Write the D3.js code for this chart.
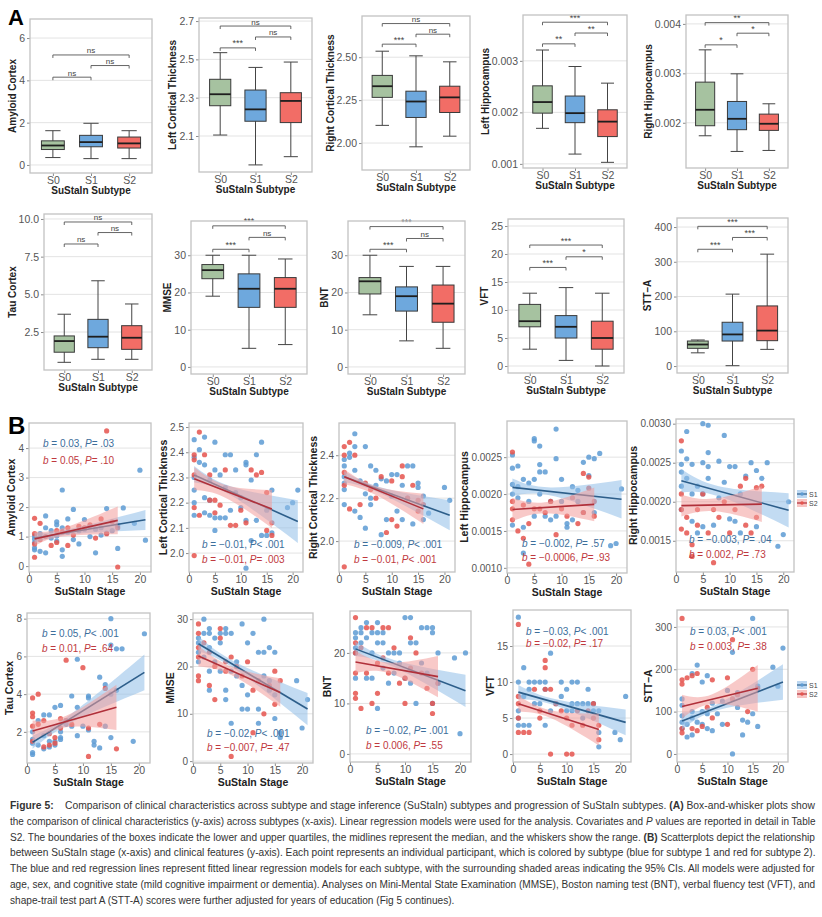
<!DOCTYPE html>
<html>
<head>
<meta charset="utf-8">
<script src="https://cdn.jsdelivr.net/npm/d3@7"></script>
<style>
  body { margin: 0; background: #fff; }
  text { font-family: "Liberation Sans", Arial, sans-serif; }
</style>
</head>
<body>
<div id="chart"></div>
<script>
// ---------- Panel A data: box stats [min, q1, median, q3, max] for S0, S1, S2
const subtypes = ["S0", "S1", "S2"]
const amyloidBox = [[0.35, 0.73, 0.92, 1.14, 1.62], [0.30, 0.86, 1.08, 1.40, 1.97], [0.30, 0.80, 1.02, 1.32, 1.62]]
const leftCtBox = [[2.105, 2.258, 2.318, 2.396, 2.535], [1.949, 2.177, 2.239, 2.340, 2.458], [1.992, 2.170, 2.283, 2.326, 2.486]]
const rightCtBox = [[2.103, 2.266, 2.331, 2.394, 2.535], [1.978, 2.149, 2.242, 2.302, 2.508], [2.040, 2.178, 2.266, 2.331, 2.473]]
const leftHipBox = [[0.00169, 0.001985, 0.0022, 0.002515, 0.00321], [0.00119, 0.0018, 0.001985, 0.002317, 0.00289], [0.00103, 0.00153, 0.00182, 0.00205, 0.002567]]
const rightHipBox = [[0.001737, 0.00194, 0.002263, 0.002822, 0.003475], [0.00142, 0.00186, 0.00208, 0.002431, 0.00299], [0.00144, 0.001846, 0.00198, 0.002175, 0.002384]]
const tauBox = [[0.49, 1.16, 1.9, 2.24, 3.68], [0.69, 1.46, 2.19, 3.34, 5.9], [0.69, 1.35, 2.12, 2.92, 4.36]]
const mmseBox = [[19, 23.7, 26, 27.5, 30], [5, 16, 21, 25, 30], [6, 16, 21, 24, 29]]
const bntBox = [[14, 19.6, 23, 24, 30], [7, 15, 19, 21.5, 27], [5, 12, 17, 22, 27]]
const vftBox = [[3, 7, 8, 11, 13], [1, 5, 7, 9, 14], [0, 3, 5, 8, 13]]
const sttBox = [[38, 51, 62, 72, 75], [1, 72, 91, 126, 207], [48, 73, 102, 173, 322]]

// significance labels: S0-S1, S1-S2, S0-S2
const amyloidSig = ["ns", "ns", "ns"]
const leftCtSig = ["***", "ns", "ns"]
const rightCtSig = ["***", "ns", "ns"]
const leftHipSig = ["**", "**", "***"]
const rightHipSig = ["*", "*", "**"]
const tauSig = ["ns", "ns", "ns"]
const mmseSig = ["***", "ns", "***"]
const bntSig = ["***", "ns", "***"]
const vftSig = ["***", "*", "***"]
const sttSig = ["***", "***", "***"]

// ---------- Panel B data: [stage, value] points per subtype
const amyS1 = [[1,0.92],[1,0.62],[1,0.55],[1,1.02],[1,0.8],[2,0.5],[2,1.1],[3,1.7],[3,0.45],[3,1.3],[4,0.95],[4,1.2],[5,1.5],[5,1.4],[5,1.02],[5,0.85],[6,2.58],[6,0.55],[6,0.33],[6,1.3],[7,1.6],[7,1.15],[8,1.92],[8,0.9],[9,1.2],[9,0.75],[10,1.58],[10,1.25],[11,1.0],[11,1.35],[12,0.45],[12,1.25],[13,1.3],[13,1.05],[14,1.95],[14,1.12],[15,1.2],[16,0.6],[16,1.38],[17,1.97],[19,1.45],[20,3.25],[21,0.88]]
const amyS2 = [[1,1.62],[1,0.3],[1,1.1],[1,0.75],[2,1.45],[2,0.9],[3,1.0],[4,0.7],[5,1.2],[5,0.8],[6,1.15],[7,0.7],[7,1.3],[8,1.05],[9,1.35],[10,1.3],[11,1.4],[12,0.95],[13,1.6],[14,4.58],[14,1.1],[15,1.5],[16,-0.03],[16,1.3]]
const lctS1 = [[1,2.45],[1,2.38],[1,2.30],[1,2.25],[1,2.20],[1,2.15],[2,2.36],[2,2.41],[3,2.46],[3,2.35],[3,2.22],[3,2.16],[4,2.21],[4,2.29],[4,2.15],[5,2.44],[5,2.33],[5,2.14],[5,2.09],[6,2.31],[6,2.14],[7,2.39],[7,2.26],[7,2.14],[8,2.39],[8,2.17],[9,2.24],[9,2.33],[10,2.18],[10,2.22],[11,2.36],[11,2.13],[11,2.35],[11,1.94],[12,2.29],[12,2.05],[13,2.39],[13,2.13],[14,2.44],[14,2.07],[15,2.07],[15,2.17],[16,2.25],[16,2.08],[19,2.18],[20,2.20],[21,2.25]]
const lctS2 = [[1,2.37],[1,2.39],[1,2.31],[1,2.18],[1,1.99],[2,2.48],[2,2.15],[3,2.39],[4,2.31],[4,2.21],[5,2.16],[5,2.21],[6,2.19],[7,2.33],[8,2.11],[9,2.11],[10,2.17],[11,2.12],[12,2.33],[13,2.31],[14,2.32],[15,2.09],[15,2.24],[16,2.07],[16,2.12]]
const rctS1 = [[1,2.38],[1,2.35],[1,2.30],[1,2.27],[1,2.24],[1,2.17],[2,2.39],[2,2.41],[3,2.50],[3,2.44],[3,2.33],[3,2.14],[4,2.28],[4,2.11],[5,2.44],[5,2.22],[5,2.06],[6,2.35],[6,2.17],[6,2.20],[7,2.33],[7,2.26],[8,2.29],[8,2.03],[9,2.28],[9,2.10],[10,2.31],[10,2.21],[11,2.31],[11,2.14],[12,2.26],[12,2.10],[13,2.35],[13,2.20],[14,2.35],[14,2.08],[15,2.25],[15,2.27],[16,2.10],[16,2.21],[17,2.13],[20,2.25],[21,2.19]]
const rctS2 = [[1,2.44],[1,2.40],[1,2.32],[1,2.26],[1,1.88],[2,2.46],[2,2.15],[3,2.40],[4,2.17],[5,2.27],[6,2.24],[7,2.20],[8,2.30],[9,2.04],[10,2.28],[10,2.10],[11,2.07],[12,2.30],[12,2.35],[13,2.20],[14,2.26],[15,2.14],[15,2.19],[16,2.17]]
const lhS1 = [[1,0.00253],[1,0.00235],[1,0.00213],[1,0.0020],[1,0.00158],[2,0.00238],[2,0.0021],[2,0.00195],[3,0.0022],[3,0.00155],[3,0.0012],[4,0.00215],[4,0.0019],[5,0.00275],[5,0.00272],[5,0.0022],[5,0.0017],[6,0.00265],[6,0.0024],[6,0.0023],[6,0.0020],[7,0.0023],[7,0.0017],[8,0.0019],[8,0.00165],[9,0.00288],[9,0.00248],[9,0.0017],[10,0.0022],[10,0.0019],[11,0.0016],[11,0.00155],[12,0.0021],[12,0.00165],[13,0.00205],[13,0.0019],[14,0.00243],[14,0.00175],[15,0.00225],[15,0.0025],[16,0.00248],[16,0.00175],[17,0.00255],[19,0.0013],[20,0.00133],[21,0.00207]]
const lhS2 = [[1,0.00257],[1,0.0019],[1,0.0018],[1,0.00165],[2,0.0015],[3,0.0014],[3,0.00185],[4,0.00105],[4,0.0016],[5,0.0018],[6,0.0018],[7,0.00175],[8,0.0019],[9,0.00145],[10,0.0018],[11,0.0017],[12,0.00195],[13,0.0016],[14,0.00228],[14,0.00175],[15,0.00223],[15,0.00208],[16,0.0017],[16,0.0019]]
const rhS1 = [[1,0.00265],[1,0.00248],[1,0.00238],[1,0.0022],[1,0.0019],[2,0.0029],[2,0.00255],[2,0.0023],[3,0.00248],[3,0.0021],[3,0.00175],[4,0.0022],[4,0.0016],[5,0.003],[5,0.0025],[5,0.0021],[5,0.00168],[6,0.00298],[6,0.00263],[6,0.00245],[6,0.0023],[7,0.0017],[8,0.00252],[8,0.00205],[9,0.00285],[9,0.00225],[10,0.00245],[10,0.00178],[11,0.00245],[11,0.00175],[12,0.0021],[12,0.0016],[13,0.00233],[14,0.0025],[15,0.0024],[15,0.00168],[16,0.0023],[17,0.0025],[19,0.00143],[20,0.00158],[21,0.002]]
const rhS2 = [[1,0.00278],[1,0.0021],[1,0.0019],[1,0.00165],[2,0.0018],[2,0.0016],[3,0.00145],[3,0.0013],[4,0.0017],[4,0.0019],[5,0.0021],[6,0.0016],[7,0.00122],[7,0.0019],[8,0.0018],[9,0.002],[10,0.0016],[11,0.0019],[12,0.0022],[13,0.0023],[13,0.0017],[14,0.0016],[15,0.00218],[15,0.0018],[16,0.0022]]
const tauS1 = [[1,2.0],[1,1.6],[1,1.4],[1,0.9],[1,0.8],[2,2.6],[2,1.3],[3,2.9],[3,1.8],[3,1.1],[4,2.9],[4,1.5],[4,1.2],[5,3.3],[5,1.5],[5,1.3],[6,3.4],[6,2.0],[6,1.7],[6,1.6],[7,2.6],[7,2.4],[8,3.9],[8,2.3],[9,5.85],[9,3.3],[9,1.8],[10,2.3],[11,3.9],[11,3.8],[11,2.1],[12,1.5],[12,1.3],[13,4.9],[13,1.15],[14,4.5],[14,2.3],[15,8.0],[15,6.6],[15,4.0],[15,1.7],[16,6.4],[16,4.2],[17,6.4],[19,1.5],[21,7.2]]
const tauS2 = [[1,3.8],[1,3.0],[1,2.8],[1,2.3],[1,1.5],[2,4.0],[2,2.4],[3,2.6],[3,1.2],[4,1.9],[4,1.3],[5,1.4],[5,1.7],[6,2.7],[6,2.2],[7,5.8],[7,2.6],[8,2.4],[10,5.4],[11,0.7],[11,2.2],[13,2.4],[14,4.3],[16,1.1]]
const mmseS1 = [[1,26],[1,25],[1,23],[1,21],[2,30],[2,27],[2,22],[3,28],[3,27],[3,24],[3,19],[3,15],[4,26],[4,21],[5,27],[5,25],[5,19],[6,28],[6,27],[6,15],[6,13],[7,27],[7,19],[7,8],[8,21],[8,18],[9,29],[9,16],[9,11],[10,25],[10,14],[10,11],[11,27],[12,23],[12,11],[12,8],[13,30],[13,23],[13,18],[14,24],[14,17],[14,15],[15,23],[15,9],[15,14],[16,6],[16,5],[19,17],[20,7],[21,13]]
const mmseS2 = [[1,29],[1,27],[1,24],[1,22],[1,18],[1,17],[2,25],[3,23],[3,16],[4,20],[4,13],[5,28],[5,26],[6,21],[6,19],[7,1],[7,22],[8,20],[9,18],[10,21],[11,15],[11,6],[12,17],[13,10],[14,16],[15,19],[15,12],[16,17]]
const bntS1 = [[1,24],[1,23],[1,21],[1,20],[1,15],[2,25],[2,24],[2,22],[3,26],[3,23],[3,15],[4,24],[4,20],[4,15],[5,26],[5,24],[5,22],[5,9],[6,24],[6,22],[6,17],[7,20],[7,14],[8,20],[8,16],[9,20],[9,18],[10,27],[10,15],[11,27],[11,22],[11,14],[12,22],[12,10],[13,25],[13,18],[14,25],[14,16],[15,25],[15,24],[15,10],[16,20],[16,14],[19,19],[20,4],[21,20]]
const bntS2 = [[1,27],[1,22],[1,20],[1,16],[1,12],[1,11],[2,21],[2,9],[3,25],[3,16],[4,25],[4,10],[5,18],[5,12],[6,25],[6,19],[7,25],[7,16],[8,21],[9,14],[10,15],[10,10],[11,23],[11,17],[12,20],[13,16],[14,13],[15,10],[15,8],[16,14]]
const vftS1 = [[1,19],[1,10],[1,6],[1,5],[1,4],[2,12],[2,8],[2,4],[3,10],[3,9],[3,4],[4,10],[4,7],[5,10],[5,7],[6,10],[6,9],[6,4],[7,14],[7,6],[8,7],[9,10],[9,8],[10,9],[10,6],[11,10],[11,7],[11,6],[12,10],[12,7],[13,7],[13,5],[14,9],[14,7],[15,7],[15,6],[16,3],[16,1],[16,6],[19,3],[20,2],[21,8]]
const vftS2 = [[1,18],[1,8],[1,7],[1,5],[1,3],[2,3],[3,3],[4,9],[5,6],[5,5],[6,13],[6,12],[6,9],[7,9],[7,0],[8,7],[9,6],[10,0],[10,5],[11,0],[11,4],[12,6],[13,4],[14,6],[15,7],[15,5],[16,4],[16,2]]
const sttS1 = [[1,130],[1,115],[1,90],[1,75],[1,60],[2,70],[2,40],[3,190],[3,100],[3,85],[3,45],[4,210],[4,75],[5,170],[5,100],[5,70],[6,185],[6,95],[6,60],[7,55],[7,120],[8,95],[9,70],[9,125],[10,150],[11,240],[11,0],[12,110],[12,145],[13,80],[13,45],[14,75],[15,320],[15,95],[16,65],[16,160],[19,205],[20,160],[21,250]]
const sttS2 = [[1,320],[1,175],[1,165],[1,60],[1,50],[2,180],[3,185],[3,60],[4,190],[4,55],[5,65],[6,110],[7,175],[7,85],[10,70],[10,180],[11,270],[11,130],[12,140],[14,100],[15,200],[16,155]]

// fitted lines [stage, value] and 95% CI bands [stage, lower, upper]
const amyFit = [[[1,0.95],[21,1.57]], [[1,0.92],[16,1.55]]]
const amyBand = [[[1,0.76,1.12],[7,1.06,1.24],[21,1.22,1.9]], [[1,0.68,1.17],[6,1.0,1.28],[16,1.08,2.02]]]
const lctFit = [[[1,2.31],[21,2.125]], [[1,2.295],[16,2.175]]]
const lctBand = [[[1,2.28,2.345],[8,2.23,2.265],[21,2.04,2.21]], [[1,2.25,2.34],[7,2.22,2.27],[16,2.10,2.25]]]
const rctFit = [[[1,2.30],[21,2.12]], [[1,2.30],[16,2.15]]]
const rctBand = [[[1,2.275,2.325],[8,2.22,2.25],[21,2.05,2.19]], [[1,2.265,2.335],[7,2.215,2.255],[16,2.08,2.22]]]
const lhFit = [[[1,0.00209],[21,0.00193]], [[1,0.00179],[16,0.00186]]]
const lhBand = [[[1,0.00197,0.00221],[8,0.00198,0.00209],[21,0.00167,0.00219]], [[1,0.00163,0.00195],[7,0.00174,0.00189],[16,0.00163,0.00209]]]
const rhFit = [[[1,0.00227],[21,0.00189]], [[1,0.00195],[16,0.00197]]]
const rhBand = [[[1,0.00212,0.00242],[8,0.00207,0.0022],[21,0.00167,0.00211]], [[1,0.00181,0.00209],[7,0.00188,0.00204],[16,0.00174,0.0022]]]
const tauFit = [[[1,1.45],[21,5.15]], [[1,2.05],[16,3.3]]]
const tauBand = [[[1,1.1,1.8],[8,2.5,2.98],[21,4.2,6.1]], [[1,1.5,2.6],[7,2.25,2.85],[16,2.1,4.5]]]
const mmseFit = [[[1,24.8],[21,11]], [[1,22.2],[16,14.5]]]
const mmseBand = [[[1,23.2,26.4],[8,19.2,20.8],[21,7.6,14.4]], [[1,20.0,24.4],[7,18.2,20.0],[16,11.5,17.5]]]
const bntFit = [[[1,20.8],[21,12.5]], [[1,18.2],[16,15.3]]]
const bntBand = [[[1,19.4,22.2],[8,17.2,18.6],[21,9.3,15.7]], [[1,16.0,20.4],[7,16.0,18.1],[16,11.2,19.4]]]
const vftFit = [[[1,8.6],[21,4.4]], [[1,7.0],[16,3.4]]]
const vftBand = [[[1,7.6,9.6],[8,6.7,7.6],[21,2.6,6.2]], [[1,5.9,8.1],[7,5.0,6.1],[16,1.2,5.6]]]
const sttFit = [[[1,78],[21,170]], [[1,112],[16,155]]]
const sttBand = [[[1,58,98],[8,103,118],[21,128,212]], [[1,84,140],[7,118,141],[16,100,210]]]

// regression notes: [b, relation, P] for S1 and S2
const amyNotes = [["0.03", "=", ".03"], ["0.05", "=", ".10"]]
const lctNotes = [["\u22120.01", "<", ".001"], ["\u22120.01", "=", ".003"]]
const rctNotes = [["\u22120.009", "<", ".001"], ["\u22120.01", "<", ".001"]]
const lhNotes = [["\u22120.002", "=", ".57"], ["\u22120.0006", "=", ".93"]]
const rhNotes = [["\u22120.003", "=", ".04"], ["0.002", "=", ".73"]]
const tauNotes = [["0.05", "<", ".001"], ["0.01", "=", ".64"]]
const mmseNotes = [["\u22120.02", "<", ".001"], ["\u22120.007", "=", ".47"]]
const bntNotes = [["\u22120.02", "=", ".001"], ["0.006", "=", ".55"]]
const vftNotes = [["\u22120.03", "<", ".001"], ["\u22120.02", "=", ".17"]]
const sttNotes = [["0.03", "<", ".001"], ["0.003", "=", ".38"]]

const captionLines = [
  [["Figure 5:", "b"], ["    Comparison of clinical characteristics across subtype and stage inference (SuStaIn) subtypes and progression of SuStaIn subtypes. "], ["(A)", "b"], [" Box-and-whisker plots show"]],
  [["the comparison of clinical characteristics (y-axis) across subtypes (x-axis). Linear regression models were used for the analysis. Covariates and "], ["P", "i"], [" values are reported in detail in Table"]],
  [["S2. The boundaries of the boxes indicate the lower and upper quartiles, the midlines represent the median, and the whiskers show the range. "], ["(B)", "b"], [" Scatterplots depict the relationship"]],
  [["between SuStaIn stage (x-axis) and clinical features (y-axis). Each point represents an individual participant, which is colored by subtype (blue for subtype 1 and red for subtype 2)."]],
  [["The blue and red regression lines represent fitted linear regression models for each subtype, with the surrounding shaded areas indicating the 95% CIs. All models were adjusted for"]],
  [["age, sex, and cognitive state (mild cognitive impairment or dementia). Analyses on Mini-Mental State Examination (MMSE), Boston naming test (BNT), verbal fluency test (VFT), and"]],
  [["shape-trail test part A (STT-A) scores were further adjusted for years of education (Fig 5 continues)."]]
]

// ---------- styles
const FONT = '"Liberation Sans", Arial, sans-serif'
const BOX_FILL = { S0: "#a6c2a0", S1: "#6ea8dd", S2: "#f26d66" }
const PT = ["#5d9bd3", "#e5544d"]
const LINE = ["#2d5e8a", "#b0303a"]
const BAND = ["#8fbde8", "#f39c9a"]
const NOTE = ["#3c6e9b", "#c0393e"]

const svg = d3.select("#chart").append("svg")
  .attr("width", 822)
  .attr("height", 917)

function styleAxis(ax, size) {
  ax.attr("font-family", FONT).attr("font-size", size)
  ax.select(".domain").remove()
  ax.selectAll(".tick line").attr("stroke", "#8c8c8c")
  ax.selectAll(".tick text").attr("fill", "#555")
}

function yTitle(g, text, ax, x0, yMid, size) {
  let w = 0
  ax.selectAll(".tick text").each(function () { w = Math.max(w, this.getComputedTextLength()) })
  g.append("text")
    .attr("transform", `translate(${x0 - 5 - w - 3},${yMid}) rotate(-90)`)
    .attr("text-anchor", "middle")
    .attr("font-weight", "bold")
    .attr("font-size", size)
    .attr("fill", "#222")
    .text(text)
}

function gridAndFrame(g, y, ticks, f) {
  g.selectAll(".grid").data(ticks).join("line")
    .attr("x1", f[0]).attr("x2", f[1])
    .attr("y1", d => y(d)).attr("y2", d => y(d))
    .attr("stroke", "#e3e3e3").attr("stroke-width", 1)
}

function frameRect(g, f) {
  g.append("rect")
    .attr("x", f[0]).attr("y", f[2])
    .attr("width", f[1] - f[0]).attr("height", f[3] - f[2])
    .attr("fill", "none").attr("stroke", "#c2c2c2").attr("stroke-width", 1.3)
}

// ---------- Panel A: box plots
const boxPanels = [
  { title: "Amyloid Cortex", stats: amyloidBox, sig: amyloidSig, frame: [30, 152, 19, 173], domain: [-0.38, 6.9], ticks: [0, 2, 4, 6], fmt: "d", sigY: [4.15, 4.7, 5.2] },
  { title: "Left Cortical Thickness", stats: leftCtBox, sig: leftCtSig, frame: [199, 312, 18, 172], domain: [1.912, 2.716], ticks: [2.1, 2.3, 2.5, 2.7], fmt: ".1f", sigY: [2.56, 2.617, 2.674] },
  { title: "Right Cortical Thickness", stats: rightCtBox, sig: rightCtSig, frame: [362, 470, 16, 170], domain: [1.843, 2.74], ticks: [2.0, 2.25, 2.5], fmt: ".2f", sigY: [2.576, 2.634, 2.696] },
  { title: "Left Hippocampus", stats: leftHipBox, sig: leftHipSig, frame: [523, 627, 15, 168], domain: [0.00092, 0.00389], ticks: [0.001, 0.002, 0.003], fmt: ".3f", sigY: [0.00333, 0.00354, 0.00375] },
  { title: "Right Hippocampus", stats: rightHipBox, sig: rightHipSig, frame: [686, 788, 15, 168], domain: [0.001085, 0.00418], ticks: [0.002, 0.003, 0.004], fmt: ".3f", sigY: [0.003576, 0.003812, 0.004026] },
  { title: "Tau Cortex", stats: tauBox, sig: tauSig, frame: [44, 152, 214, 370], domain: [-0.02, 10.33], ticks: [2.5, 5, 7.5, 10], fmt: ".1f", sigY: [8.34, 9.1, 9.8] },
  { title: "MMSE", stats: mmseBox, sig: mmseSig, frame: [191, 307, 221, 374], domain: [-1.9, 39.2], ticks: [0, 10, 20, 30], fmt: "d", sigY: [31.6, 34.8, 37.9] },
  { title: "BNT", stats: bntBox, sig: bntSig, frame: [348, 465, 221, 374], domain: [-1.9, 39.2], ticks: [0, 10, 20, 30], fmt: "d", sigY: [31.6, 34.5, 37.7] },
  { title: "VFT", stats: vftBox, sig: vftSig, frame: [508, 624, 219, 373], domain: [-1.25, 26.25], ticks: [0, 5, 10, 15, 20, 25], fmt: "d", sigY: [17.6, 19.5, 21.6] },
  { title: "STT\u2013A", stats: sttBox, sig: sttSig, frame: [677, 788, 218, 373], domain: [-20, 426], ticks: [0, 100, 200, 300, 400], fmt: "d", sigY: [336, 370, 402] }
]
const sigPairs = [["S0", "S1"], ["S1", "S2"], ["S0", "S2"]]

function boxPanel(p) {
  const [x0, x1, y0, y1] = p.frame
  const g = svg.append("g")
  const x = d3.scalePoint().domain(subtypes).range([x0, x1]).padding(0.6)
  const y = d3.scaleLinear().domain(p.domain).range([y1, y0])

  gridAndFrame(g, y, p.ticks, p.frame)

  const ay = g.append("g").attr("transform", `translate(${x0},0)`)
    .call(d3.axisLeft(y).tickValues(p.ticks).tickFormat(d3.format(p.fmt)).tickSize(3).tickPadding(2))
  styleAxis(ay, 10.5)
  const ax = g.append("g").attr("transform", `translate(0,${y1})`)
    .call(d3.axisBottom(x).tickSize(3).tickPadding(1))
  styleAxis(ax, 10.5)

  const step = x.step(), bw = step * 0.6, cw = step * 0.4
  subtypes.forEach((s, i) => {
    const [mn, q1, md, q3, mx] = p.stats[i]
    const cx = x(s)
    g.append("line").attr("x1", cx).attr("x2", cx).attr("y1", y(mn)).attr("y2", y(mx))
      .attr("stroke", "#444").attr("stroke-width", 1)
    ;[mn, mx].forEach(v => g.append("line")
      .attr("x1", cx - cw / 2).attr("x2", cx + cw / 2).attr("y1", y(v)).attr("y2", y(v))
      .attr("stroke", "#444").attr("stroke-width", 1))
    g.append("rect").attr("x", cx - bw / 2).attr("width", bw)
      .attr("y", y(q3)).attr("height", y(q1) - y(q3))
      .attr("fill", BOX_FILL[s]).attr("stroke", "#3a3a3a").attr("stroke-width", 1)
    g.append("line").attr("x1", cx - bw / 2).attr("x2", cx + bw / 2).attr("y1", y(md)).attr("y2", y(md))
      .attr("stroke", "#1e1e1e").attr("stroke-width", 1.8)
  })

  p.sig.forEach((lab, i) => {
    const [a, b] = sigPairs[i]
    const yy = y(p.sigY[i])
    g.append("path")
      .attr("d", `M${x(a)},${yy + 3}V${yy}H${x(b)}V${yy + 3}`)
      .attr("fill", "none").attr("stroke", "#555").attr("stroke-width", 0.9)
    g.append("text").attr("x", (x(a) + x(b)) / 2).attr("y", yy - 1.5)
      .attr("text-anchor", "middle").attr("font-size", lab === "ns" ? 8 : 9)
      .attr("fill", "#444").text(lab)
  })

  frameRect(g, p.frame)
  yTitle(g, p.title, ay, x0, (y0 + y1) / 2, 10)
  g.append("text").attr("x", (x0 + x1) / 2).attr("y", y1 + 21)
    .attr("text-anchor", "middle").attr("font-weight", "bold").attr("font-size", 10)
    .attr("fill", "#222").text("SuStaIn Subtype")
}

boxPanels.forEach(boxPanel)

// ---------- Panel B: scatter plots with regression fits
const scatterPanels = [
  { title: "Amyloid Cortex", pts: [amyS1, amyS2], fit: amyFit, band: amyBand, notes: amyNotes, frame: [29, 151, 423, 572], domain: [-0.2, 4.85], ticks: [0, 1, 2, 3, 4], fmt: "d", note: [43, 447, 464] },
  { title: "Left Cortical Thickness", pts: [lctS1, lctS2], fit: lctFit, band: lctBand, notes: lctNotes, frame: [189, 303, 423, 572], domain: [1.925, 2.516], ticks: [2.0, 2.1, 2.2, 2.3, 2.4, 2.5], fmt: ".1f", note: [202, 548, 563] },
  { title: "Right Cortical Thickness", pts: [rctS1, rctS2], fit: rctFit, band: rctBand, notes: rctNotes, frame: [339, 455, 423, 572], domain: [1.856, 2.55], ticks: [2.0, 2.2, 2.4], fmt: ".1f", note: [354, 548, 563] },
  { title: "Left Hippocampus", pts: [lhS1, lhS2], fit: lhFit, band: lhBand, notes: lhNotes, frame: [507, 627, 421, 573], domain: [0.00093, 0.00299], ticks: [0.001, 0.0015, 0.002, 0.0025], fmt: ".4f", note: [522, 547, 561] },
  { title: "Right Hippocampus", pts: [rhS1, rhS2], fit: rhFit, band: rhBand, notes: rhNotes, frame: [676, 794, 419, 572], domain: [0.0011, 0.00306], ticks: [0.0015, 0.002, 0.0025, 0.003], fmt: ".4f", note: [689, 543, 558], legend: 494 },
  { title: "Tau Cortex", pts: [tauS1, tauS2], fit: tauFit, band: tauBand, notes: tauNotes, frame: [27, 150, 613, 763], domain: [0.35, 8.3], ticks: [2, 4, 6, 8], fmt: "d", note: [42, 637, 652] },
  { title: "MMSE", pts: [mmseS1, mmseS2], fit: mmseFit, band: mmseBand, notes: mmseNotes, frame: [193, 313, 613, 763], domain: [-0.4, 31.3], ticks: [0, 10, 20, 30], fmt: "d", note: [207, 737, 751] },
  { title: "BNT", pts: [bntS1, bntS2], fit: bntFit, band: bntBand, notes: bntNotes, frame: [350, 471, 611, 762], domain: [-1.6, 28.3], ticks: [0, 10, 20], fmt: "d", note: [366, 734, 749] },
  { title: "VFT", pts: [vftS1, vftS2], fit: vftFit, band: vftBand, notes: vftNotes, frame: [513, 631, 610, 762], domain: [-1.1, 20], ticks: [0, 5, 10, 15], fmt: "d", note: [526, 635, 647] },
  { title: "STT\u2013A", pts: [sttS1, sttS2], fit: sttFit, band: sttBand, notes: sttNotes, frame: [677, 788, 610, 762], domain: [-19, 340], ticks: [0, 100, 200, 300], fmt: "d", note: [690, 635, 650], legend: 685 }
]

function scatterPanel(p) {
  const [x0, x1, y0, y1] = p.frame
  const g = svg.append("g")
  const x = d3.scaleLinear().domain([0, 22]).range([x0, x1])
  const y = d3.scaleLinear().domain(p.domain).range([y1, y0])

  gridAndFrame(g, y, p.ticks, p.frame)

  const ay = g.append("g").attr("transform", `translate(${x0},0)`)
    .call(d3.axisLeft(y).tickValues(p.ticks).tickFormat(d3.format(p.fmt)).tickSize(3).tickPadding(2))
  styleAxis(ay, 10)
  const ax = g.append("g").attr("transform", `translate(0,${y1})`)
    .call(d3.axisBottom(x).tickValues([0, 5, 10, 15, 20]).tickSize(3).tickPadding(1))
  styleAxis(ax, 10.5)

  const clip = "clip" + x0 + "_" + y0
  g.append("clipPath").attr("id", clip).append("rect")
    .attr("x", x0).attr("y", y0).attr("width", x1 - x0).attr("height", y1 - y0)
  const inner = g.append("g").attr("clip-path", `url(#${clip})`)

  p.pts.forEach((pts, k) => {
    inner.append("g").selectAll("circle").data(pts).join("circle")
      .attr("cx", d => x(d[0])).attr("cy", d => y(d[1])).attr("r", 2.6)
      .attr("fill", PT[k]).attr("fill-opacity", 0.85)
  })

  const area = d3.area().x(d => x(d[0])).y0(d => y(d[1])).y1(d => y(d[2])).curve(d3.curveNatural)
  const line = d3.line().x(d => x(d[0])).y(d => y(d[1]))
  ;[0, 1].forEach(k => {
    inner.append("path").attr("d", area(p.band[k])).attr("fill", BAND[k]).attr("fill-opacity", 0.55)
    inner.append("path").attr("d", line(p.fit[k])).attr("stroke", LINE[k]).attr("stroke-width", 1.6).attr("fill", "none")
  })

  p.notes.forEach((n, k) => {
    const t = g.append("text").attr("x", p.note[0]).attr("y", p.note[1 + k])
      .attr("font-size", 10).attr("fill", NOTE[k]).style("white-space", "pre")
    t.append("tspan").attr("font-style", "italic").text("b")
    t.append("tspan").text(` = ${n[0]}, `)
    t.append("tspan").attr("font-style", "italic").text("P")
    t.append("tspan").text(`${n[1]} ${n[2]}`)
  })

  frameRect(g, p.frame)
  yTitle(g, p.title, ay, x0, (y0 + y1) / 2, 10.5)
  g.append("text").attr("x", (x0 + x1) / 2).attr("y", y1 + 23)
    .attr("text-anchor", "middle").attr("font-weight", "bold").attr("font-size", 10.5)
    .attr("fill", "#222").text("SuStaIn Stage")

  if (p.legend) {
    ["S1", "S2"].forEach((s, k) => {
      const ly = p.legend + k * 9
      const lg = svg.append("g")
      lg.append("rect").attr("x", 797).attr("y", ly - 4).attr("width", 10).attr("height", 8)
        .attr("fill", BAND[k]).attr("fill-opacity", 0.6)
      lg.append("line").attr("x1", 797).attr("x2", 807).attr("y1", ly).attr("y2", ly)
        .attr("stroke", LINE[k]).attr("stroke-width", 1.2)
      lg.append("circle").attr("cx", 802).attr("cy", ly).attr("r", 1.8).attr("fill", PT[k])
      lg.append("text").attr("x", 809).attr("y", ly + 2.5).attr("font-size", 7).attr("fill", "#444").text(s)
    })
  }
}

scatterPanels.forEach(scatterPanel)

// panel letters
svg.append("text").attr("x", 8).attr("y", 25).attr("font-size", 22).attr("font-weight", "bold").text("A")
svg.append("text").attr("x", 8).attr("y", 434).attr("font-size", 24).attr("font-weight", "bold").text("B")

// ---------- caption
captionLines.forEach((segs, i) => {
  const t = svg.append("text").attr("font-size", 10).attr("fill", "#333").style("white-space", "pre")
  segs.forEach(([s, f]) => {
    const ts = t.append("tspan").text(s)
    if (f === "b") ts.attr("font-weight", "bold")
    if (f === "i") ts.attr("font-style", "italic")
  })
  const natural = t.node().getComputedTextLength()
  const target = i < captionLines.length - 1 ? 806 : 445
  t.attr("transform", `translate(10,${809 + i * 15.8}) scale(${target / natural},1)`)
})
</script>
</body>
</html>
